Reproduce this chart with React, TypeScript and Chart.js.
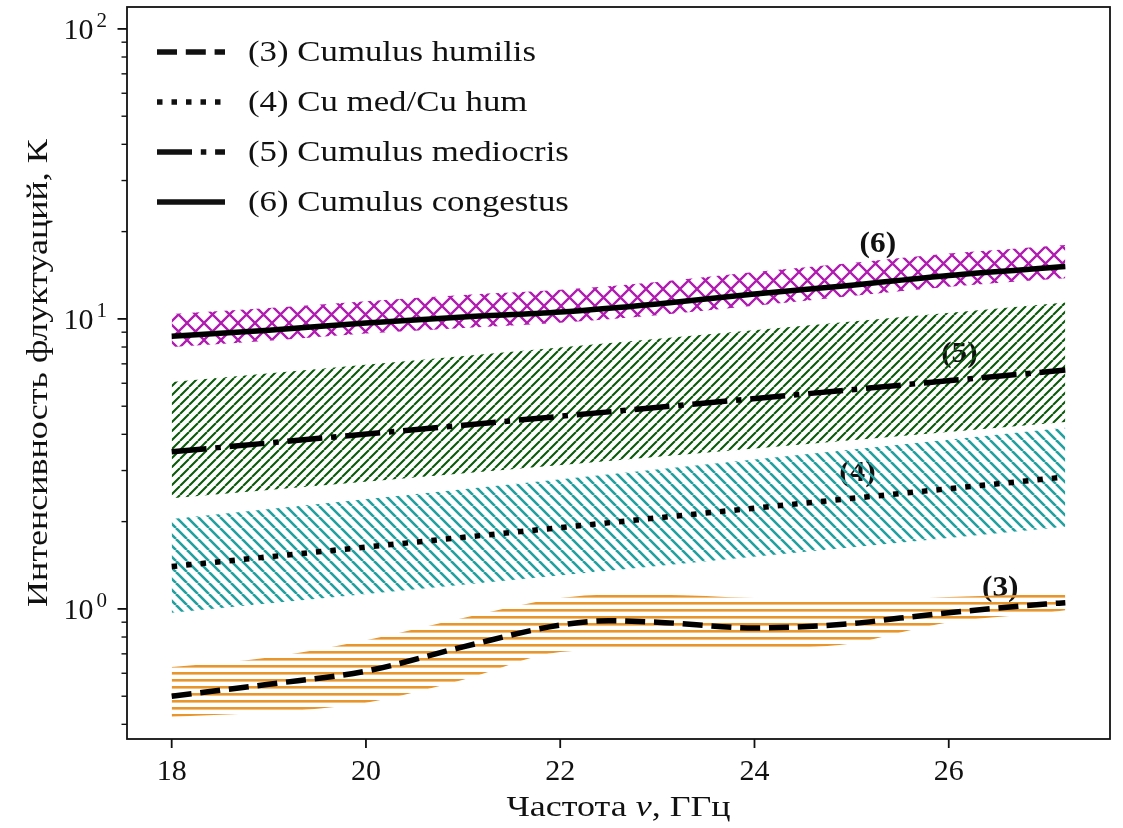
import { useEffect, useRef } from "react";
import { Chart, registerables } from "chart.js";

Chart.register(...registerables);

// (3) Cumulus humilis: central curve and spread
const FREQ_HUMILIS = [18, 19, 20, 21, 22, 22.5, 23, 24, 25, 25.5, 26, 27, 27.2];
const HUMILIS = [0.5, 0.55, 0.61, 0.74, 0.88, 0.91, 0.9, 0.86, 0.89, 0.93, 0.97, 1.04, 1.05];
const HUMILIS_HI = [0.63, 0.68, 0.78, 0.93, 1.09, 1.12, 1.12, 1.09, 1.07, 1.08, 1.1, 1.12, 1.12];
const HUMILIS_LO = [0.425, 0.44, 0.475, 0.57, 0.71, 0.72, 0.72, 0.73, 0.76, 0.83, 0.9, 0.97, 0.99];

// (4) Cu med / Cu hum and (5) Cumulus mediocris
const FREQ_RANGE = [18, 27.2];
const MED_HUM = [1.4, 2.85];
const MED_HUM_HI = [2.04, 4.21];
const MED_HUM_LO = [0.97, 1.92];
const MEDIOCRIS = [3.48, 6.66];
const MEDIOCRIS_HI = [6.06, 11.4];
const MEDIOCRIS_LO = [2.41, 4.41];

// (6) Cumulus congestus
const FREQ_CONGESTUS = [18, 19, 20, 21, 22, 23, 24, 25, 26, 27.2];
const CONGESTUS = [8.72, 9.14, 9.68, 10.15, 10.56, 11.26, 12.18, 13.07, 14.12, 15.15];
const CONGESTUS_HI = [10.4, 10.9, 11.5, 12.1, 12.6, 13.4, 14.5, 15.6, 16.8, 18.0];
const CONGESTUS_LO = [8.0, 8.4, 8.9, 9.3, 9.7, 10.3, 11.1, 12.0, 12.9, 13.8];

const LEGEND_LABELS = [
  "(3) Cumulus humilis",
  "(4) Cu med/Cu hum",
  "(5) Cumulus mediocris",
  "(6) Cumulus congestus",
];
const CURVE_TAGS = ["(3)", "(4)", "(5)", "(6)"];
const TAG_FREQ = [26.53, 25.06, 26.11, 25.27];
const TAG_LEVEL = [1.18, 2.94, 7.51, 18.0];

const X_TICKS = [18, 20, 22, 24, 26];
const Y_DECADES = [0, 1, 2];

const X_MIN = 17.54;
const X_MAX = 27.66;
const Y_MIN = 0.356;
const Y_MAX = 119;

const SERIF = '"Liberation Serif", "DejaVu Serif", serif';
const LW = 5.5;
const DASHED = [20, 8.8];
const DOTTED = [5.5, 9];
const DASHDOT = [35, 8.8, 5.5, 8.8];
const LEGEND_DASHES = [DASHED, DOTTED, DASHDOT, []];

type Kind = "h" | "fwd" | "back" | "cross";

function makeHatch(kind: Kind, color: string, size: number, lw: number): CanvasPattern {
  const c = document.createElement("canvas");
  c.width = size;
  c.height = size;
  const g = c.getContext("2d")!;
  g.strokeStyle = color;
  g.fillStyle = color;
  g.lineWidth = lw;
  if (kind === "h") {
    g.fillRect(0, 0, size, lw);
  } else {
    g.beginPath();
    for (let k = -1; k <= 1; k++) {
      if (kind === "fwd" || kind === "cross") {
        g.moveTo(k * size, size);
        g.lineTo(k * size + size, 0);
      }
      if (kind === "back" || kind === "cross") {
        g.moveTo(k * size, 0);
        g.lineTo(k * size + size, size);
      }
    }
    g.stroke();
  }
  return document.createElement("canvas").getContext("2d")!.createPattern(c, "repeat")!;
}

const pts = (xs: number[], ys: number[]) => xs.map((x, i) => ({ x, y: ys[i] }));

// Text drawn with a horizontal stretch, anchored at (x, y).
function wideText(ctx: CanvasRenderingContext2D, text: string, x: number, y: number, sx: number, align: CanvasTextAlign) {
  ctx.save();
  ctx.translate(x, y);
  ctx.scale(sx, 1);
  ctx.textAlign = align;
  ctx.fillText(text, 0, 0);
  ctx.restore();
}

// Curve tags sit beneath the hatched bands.
const tagPlugin = {
  id: "curveTags",
  beforeDatasetsDraw(chart: any) {
    const { ctx, scales } = chart;
    ctx.save();
    ctx.fillStyle = "#111";
    ctx.textBaseline = "middle";
    ctx.font = `bold 29px ${SERIF}`;
    CURVE_TAGS.forEach((t, i) => {
      wideText(ctx, t, scales.x.getPixelForValue(TAG_FREQ[i]), scales.y.getPixelForValue(TAG_LEVEL[i]), 1.08, "center");
    });
    ctx.restore();
  },
};

const axesPlugin = {
  id: "axesDecor",
  afterDraw(chart: any) {
    const { ctx, chartArea: a, scales } = chart;
    const xs = scales.x;
    const ys = scales.y;
    ctx.save();
    ctx.fillStyle = "#111";
    ctx.strokeStyle = "#111";

    // legend
    LEGEND_LABELS.forEach((label, i) => {
      const y = a.top + 45 + i * 50;
      ctx.beginPath();
      ctx.lineWidth = LW;
      ctx.lineCap = "butt";
      ctx.setLineDash(LEGEND_DASHES[i]);
      ctx.moveTo(a.left + 30, y);
      ctx.lineTo(a.left + 98, y);
      ctx.stroke();
      ctx.setLineDash([]);
      ctx.font = `30px ${SERIF}`;
      ctx.textBaseline = "middle";
      wideText(ctx, label, a.left + 121, y + 1, 1.16, "left");
    });

    // frame
    ctx.lineWidth = 1.8;
    ctx.strokeRect(a.left, a.top, a.right - a.left, a.bottom - a.top);

    // x ticks
    ctx.font = `30px ${SERIF}`;
    ctx.textAlign = "center";
    ctx.textBaseline = "middle";
    X_TICKS.forEach((t) => {
      const x = xs.getPixelForValue(t);
      ctx.beginPath();
      ctx.moveTo(x, a.bottom);
      ctx.lineTo(x, a.bottom + 9);
      ctx.stroke();
      ctx.fillText(String(t), x, a.bottom + 33);
    });

    // y ticks: decades and minor ticks
    for (let d = -1; d <= 2; d++) {
      for (let m = 1; m <= 9; m++) {
        const v = m * Math.pow(10, d);
        if (v < Y_MIN || v > Y_MAX) continue;
        const y = ys.getPixelForValue(v);
        ctx.beginPath();
        ctx.lineWidth = m === 1 ? 1.8 : 1.4;
        ctx.moveTo(a.left - (m === 1 ? 9.5 : 5.5), y);
        ctx.lineTo(a.left, y);
        ctx.stroke();
      }
    }
    Y_DECADES.forEach((e) => {
      const y = ys.getPixelForValue(Math.pow(10, e));
      const right = a.left - 20;
      ctx.font = `21px ${SERIF}`;
      ctx.textAlign = "right";
      ctx.textBaseline = "middle";
      const sup = String(e);
      const supW = ctx.measureText(sup).width;
      ctx.fillText(sup, right, y - 7);
      ctx.font = `30px ${SERIF}`;
      ctx.fillText("10", right - supW - 3, y + 2);
    });

    // x title with italic nu
    const sx = 1.2;
    const parts = [
      { t: "Частота ", f: `30px ${SERIF}` },
      { t: "ν", f: `italic 30px ${SERIF}` },
      { t: ", ГГц", f: `30px ${SERIF}` },
    ];
    let total = 0;
    parts.forEach((p) => {
      ctx.font = p.f;
      total += ctx.measureText(p.t).width * sx;
    });
    let cx = (a.left + a.right) / 2 - total / 2;
    ctx.textBaseline = "middle";
    parts.forEach((p) => {
      ctx.font = p.f;
      wideText(ctx, p.t, cx, a.bottom + 69, sx, "left");
      cx += ctx.measureText(p.t).width * sx;
    });

    // y title
    ctx.save();
    ctx.translate(39, (a.top + a.bottom) / 2);
    ctx.rotate(-Math.PI / 2);
    ctx.font = `30px ${SERIF}`;
    ctx.textBaseline = "middle";
    wideText(ctx, "Интенсивность флуктуаций, К", 0, 0, 1.2, "center");
    ctx.restore();

    ctx.restore();
  },
};

export default function App() {
  const ref = useRef<HTMLCanvasElement>(null);

  useEffect(() => {
    const canvas = ref.current!;
    const orange = makeHatch("h", "#e8952c", 7, 2.6);
    const teal = makeHatch("back", "#22a0a0", 11, 2.6);
    const green = makeHatch("fwd", "#0b5a0b", 9, 2.1);
    const magenta = makeHatch("cross", "#b01cb0", 17, 2.3);

    const line = (xs: number[], ys: number[], dash: number[], mono: boolean) => ({
      data: pts(xs, ys),
      borderColor: "#000",
      borderWidth: LW,
      borderDash: dash,
      borderCapStyle: "butt",
      fill: false,
      pointRadius: 0,
      cubicInterpolationMode: mono ? "monotone" : "default",
      order: 0,
    });
    const upper = (xs: number[], ys: number[], pat: CanvasPattern, mono: boolean) => ({
      data: pts(xs, ys),
      borderWidth: 0,
      borderColor: "rgba(0,0,0,0)",
      backgroundColor: pat,
      fill: "+1",
      pointRadius: 0,
      cubicInterpolationMode: mono ? "monotone" : "default",
      order: 1,
    });
    const lower = (xs: number[], ys: number[], mono: boolean) => ({
      data: pts(xs, ys),
      borderWidth: 0,
      borderColor: "rgba(0,0,0,0)",
      fill: false,
      pointRadius: 0,
      cubicInterpolationMode: mono ? "monotone" : "default",
      order: 1,
    });

    const chart = new Chart(canvas, {
      type: "line",
      data: {
        datasets: [
          line(FREQ_HUMILIS, HUMILIS, DASHED, true),
          line(FREQ_RANGE, MED_HUM, DOTTED, false),
          line(FREQ_RANGE, MEDIOCRIS, DASHDOT, false),
          line(FREQ_CONGESTUS, CONGESTUS, [], true),
          upper(FREQ_HUMILIS, HUMILIS_HI, orange, true),
          lower(FREQ_HUMILIS, HUMILIS_LO, true),
          upper(FREQ_RANGE, MED_HUM_HI, teal, false),
          lower(FREQ_RANGE, MED_HUM_LO, false),
          upper(FREQ_RANGE, MEDIOCRIS_HI, green, false),
          lower(FREQ_RANGE, MEDIOCRIS_LO, false),
          upper(FREQ_CONGESTUS, CONGESTUS_HI, magenta, true),
          lower(FREQ_CONGESTUS, CONGESTUS_LO, true),
        ] as any,
      },
      options: {
        responsive: false,
        animation: false,
        devicePixelRatio: 1,
        layout: { padding: { left: 127, top: 7, right: 13, bottom: 89 } },
        scales: {
          x: { type: "linear", display: false, min: X_MIN, max: X_MAX },
          y: { type: "logarithmic", display: false, min: Y_MIN, max: Y_MAX },
        },
        plugins: { legend: { display: false }, tooltip: { enabled: false } },
        events: [],
      },
      plugins: [tagPlugin, axesPlugin],
    });
    return () => chart.destroy();
  }, []);

  return (
    <div style={{ position: "fixed", left: 0, top: 0, width: 1123, height: 828, background: "#fff" }}>
      <canvas ref={ref} width={1123} height={828} style={{ width: 1123, height: 828, display: "block" }} />
    </div>
  );
}
